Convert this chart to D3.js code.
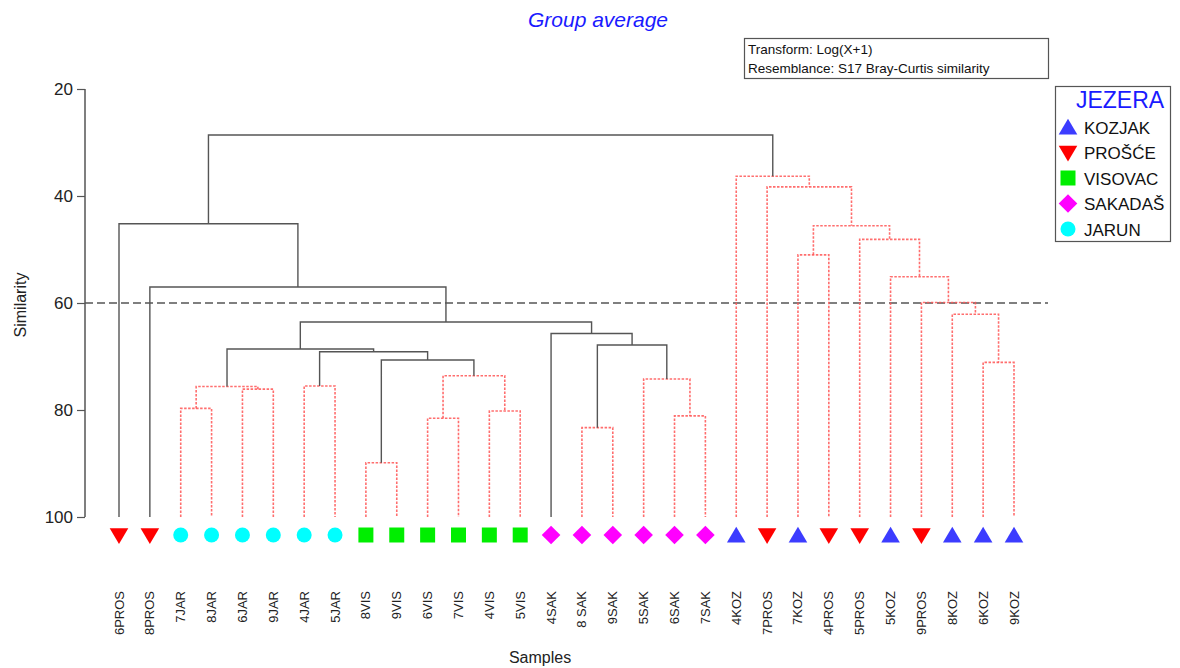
<!DOCTYPE html>
<html><head><meta charset="utf-8">
<script src="https://cdn.jsdelivr.net/npm/d3@7"></script>
<style>
body{margin:0;background:#fff;}
text{font-family:"Liberation Sans",Arial,sans-serif;}
</style></head>
<body><svg id="c" width="1180" height="668"></svg>
<script>
// Sample labels in dendrogram leaf order
const leaves = ["6PROS","8PROS","7JAR","8JAR","6JAR","9JAR","4JAR","5JAR","8VIS","9VIS","6VIS","7VIS","4VIS","5VIS","4SAK","8 SAK","9SAK","5SAK","6SAK","7SAK","4KOZ","7PROS","7KOZ","4PROS","5PROS","5KOZ","9PROS","8KOZ","6KOZ","9KOZ"];
// Lake (factor JEZERA) of each leaf
const leafGroup = ["PROŠĆE","PROŠĆE","JARUN","JARUN","JARUN","JARUN","JARUN","JARUN","VISOVAC","VISOVAC","VISOVAC","VISOVAC","VISOVAC","VISOVAC","SAKADAŠ","SAKADAŠ","SAKADAŠ","SAKADAŠ","SAKADAŠ","SAKADAŠ","KOZJAK","PROŠĆE","KOZJAK","PROŠĆE","PROŠĆE","KOZJAK","PROŠĆE","KOZJAK","KOZJAK","KOZJAK"];
// Legend entries
const groups = ["KOZJAK","PROŠĆE","VISOVAC","SAKADAŠ","JARUN"];
const groupColors = ["#3c3cff","#ff0000","#00ee00","#ff00ff","#00ffff"];
const groupShapes = ["triangleUp","triangleDown","square","diamond","circle"];
// Merge table (hclust style): negative = leaf (1-based), positive = earlier merge (1-based)
// [childA, childB, similarity, SIMPROF significant (1) or not (0)]
const merges = [
  [-9,-10,89.85,0],
  [-16,-17,83.3,0],
  [-11,-12,81.55,0],
  [-19,-20,81.1,0],
  [-13,-14,80.2,0],
  [-3,-4,79.7,0],
  [-5,-6,76.1,0],
  [6,7,75.6,0],
  [-7,-8,75.5,0],
  [-18,4,74.2,0],
  [3,5,73.6,0],
  [-29,-30,71.1,0],
  [1,11,70.65,1],
  [9,13,69.1,1],
  [8,14,68.6,1],
  [2,10,67.85,1],
  [-15,16,65.7,1],
  [15,17,63.55,1],
  [-28,12,62.1,0],
  [-27,19,59.9,0],
  [-2,18,57.0,1],
  [-26,20,55.1,0],
  [-23,-24,51.0,0],
  [-25,22,48.1,0],
  [23,24,45.55,0],
  [-1,21,45.2,1],
  [-22,25,38.3,0],
  [-21,27,36.3,0],
  [26,28,28.6,1]
];
const yTicks = [20,40,60,80,100];
const cutLevel = 60;

const svg = d3.select("#c");
const y = d3.scaleLinear().domain([20,100]).range([89,517]);
const x = d3.scalePoint().domain(d3.range(leaves.length)).range([119,1014]);

// title
svg.append("text").attr("x",598).attr("y",27).attr("text-anchor","middle")
  .attr("font-size",21).attr("font-style","italic").attr("fill","#1a1aff").text("Group average");

// y axis
const yAxis = d3.axisLeft(y).tickValues(yTicks).tickSize(8).tickPadding(4);
const ga = svg.append("g").attr("transform","translate(85,0)").call(yAxis);
ga.select(".domain").attr("stroke","#555").attr("stroke-width",1.5).attr("d","M0,89V517");
ga.selectAll(".tick line").attr("stroke","#555").attr("stroke-width",1.2);
ga.selectAll(".tick text").attr("font-size",17).attr("fill","#222").attr("font-family","Liberation Sans, Arial");
svg.append("text").attr("transform","translate(26,305) rotate(-90)").attr("text-anchor","middle")
  .attr("font-size",16).attr("fill","#222").text("Similarity");

// cut line
svg.append("line").attr("x1",85).attr("x2",1048).attr("y1",y(cutLevel)).attr("y2",y(cutLevel))
  .attr("stroke","#555").attr("stroke-width",1.3).attr("stroke-dasharray","8,4");

// compute node positions
const nodeX = [], nodeY = [];
function cx(id){ return id<0 ? x(-id-1) : nodeX[id-1]; }
function cy(id){ return id<0 ? y(100) : nodeY[id-1]; }
merges.forEach((m,i)=>{
  nodeX[i] = (cx(m[0])+cx(m[1]))/2;
  nodeY[i] = y(m[2]);
});
const gl = svg.append("g");
merges.forEach((m,i)=>{
  const ny = nodeY[i];
  const xa = cx(m[0]), xb = cx(m[1]);
  const p = d3.path();
  p.moveTo(xa, cy(m[0])); p.lineTo(xa, ny); p.lineTo(xb, ny); p.lineTo(xb, cy(m[1]));
  const sig = m[3]===1;
  gl.append("path").attr("d",p.toString()).attr("fill","none")
    .attr("stroke", sig ? "#555" : "#ff5555")
    .attr("stroke-width", sig ? 1.4 : 1.6)
    .attr("stroke-dasharray", sig ? null : "2.5,1.5")
    .attr("stroke-opacity", sig ? 1 : 0.85);
});
// draw significant nodes on top
gl.selectAll("path").filter(function(){return d3.select(this).attr("stroke")==="#555";}).raise();

// symbols
const shapeMap = {
  triangleUp: s=>`M0,${-s*0.55}L${s*0.62},${s*0.5}L${-s*0.62},${s*0.5}Z`,
  triangleDown: s=>`M0,${s*0.6}L${s*0.62},${-s*0.45}L${-s*0.62},${-s*0.45}Z`,
  square: s=>`M${-s/2},${-s/2}h${s}v${s}h${-s}Z`,
  diamond: s=>`M0,${-s*0.62}L${s*0.62},0L0,${s*0.62}L${-s*0.62},0Z`,
  circle: s=>`M${-s/2},0a${s/2},${s/2} 0 1,0 ${s},0a${s/2},${s/2} 0 1,0 ${-s},0Z`
};
function sym(g){ const k=groups.indexOf(g); return {d:shapeMap[groupShapes[k]], c:groupColors[k]}; }
svg.append("g").selectAll("path").data(leaves).join("path")
  .attr("transform",(d,i)=>`translate(${x(i)},535)`)
  .attr("d",(d,i)=>sym(leafGroup[i]).d(15))
  .attr("fill",(d,i)=>sym(leafGroup[i]).c);

// leaf labels
svg.append("g").selectAll("text").data(leaves).join("text")
  .attr("transform",(d,i)=>`translate(${x(i)+4.5},591) rotate(-90)`)
  .attr("text-anchor","end").attr("font-size",13).attr("fill","#222").text(d=>d);
svg.append("text").attr("x",540).attr("y",663).attr("text-anchor","middle")
  .attr("font-size",16).attr("fill","#222").text("Samples");

// info box
svg.append("rect").attr("x",744.5).attr("y",38.5).attr("width",304).attr("height",40)
  .attr("fill","#fff").attr("stroke","#555").attr("stroke-width",1.2);
svg.append("text").attr("x",748).attr("y",54).attr("font-size",13.5).attr("fill","#111").text("Transform: Log(X+1)");
svg.append("text").attr("x",748).attr("y",73).attr("font-size",13.5).attr("fill","#111").text("Resemblance: S17 Bray-Curtis similarity");

// legend
const lg = svg.append("g");
lg.append("rect").attr("x",1055.5).attr("y",86.5).attr("width",115).attr("height",155)
  .attr("fill","#fff").attr("stroke","#555").attr("stroke-width",1.2);
lg.append("text").attr("x",1120).attr("y",108).attr("text-anchor","middle").attr("font-size",23)
  .attr("fill","#1a1aff").text("JEZERA");
groups.forEach((g,i)=>{
  const yy = 127 + i*25.5;
  lg.append("path").attr("transform",`translate(1068,${yy})`).attr("d",shapeMap[groupShapes[i]](15)).attr("fill",groupColors[i]);
  lg.append("text").attr("x",1084).attr("y",yy+6.5).attr("font-size",17).attr("fill","#111").text(g);
});
</script></body></html>
